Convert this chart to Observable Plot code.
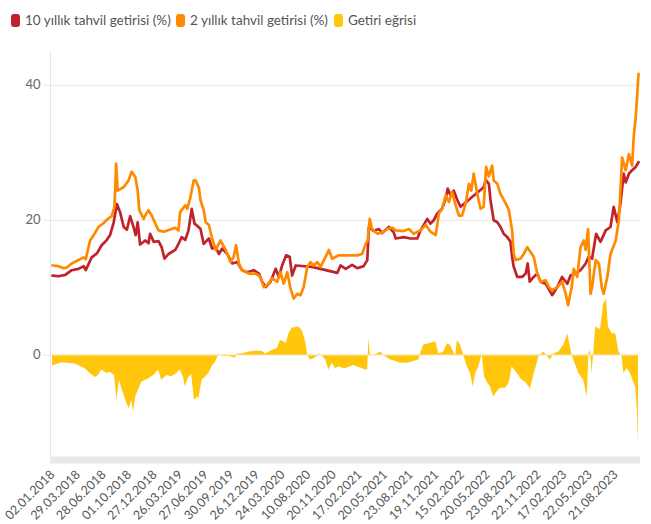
<!DOCTYPE html>
<html><head><meta charset="utf-8">
<script src="https://cdn.jsdelivr.net/npm/d3@7"></script>
<script src="https://cdn.jsdelivr.net/npm/@observablehq/plot@0.6"></script>
<style>
body{margin:0;background:#fff;font-family:Lato,"Open Sans",sans-serif;}
#legend{height:36px;position:relative;font-size:13.5px;color:#555;}
.item{position:absolute;top:12px;display:flex;align-items:center;white-space:nowrap;}
.sw{width:9px;height:13px;border-radius:3px;margin-right:5px;}
#chart svg{display:block;}
</style></head><body>
<div id="legend"></div>
<div id="chart"></div>
<script>
const seriesNames = ["10 yıllık tahvil getirisi (%)", "2 yıllık tahvil getirisi (%)", "Getiri eğrisi"];
const seriesColors = ["#c1232b", "#ff8a00", "#ffc60b"];
const tickLabels = ["02.01.2018","29.03.2018","28.06.2018","01.10.2018","27.12.2018","26.03.2019","27.06.2019","30.09.2019","26.12.2019","24.03.2020","10.08.2020","20.11.2020","17.02.2021","20.05.2021","23.08.2021","19.11.2021","15.02.2022","20.05.2022","23.08.2022","22.11.2022","17.02.2023","22.05.2023","21.08.2023"];
const tickStep = 64;
const yTicks = [0, 20, 40];

// 10-year yield: trading-day index and value
const idx10 = [0,15,32,48,65,78,83,98,111,123,136,144,153,161,169,178,186,194,203,208,213,219,232,240,244,253,265,273,280,290,307,315,323,332,340,348,355,363,370,378,391,399,408,416,424,437,449,462,474,487,503,516,524,533,545,558,566,574,584,593,599,608,649,712,720,733,749,762,778,787,791,803,816,824,841,853,858,878,895,912,920,937,945,953,962,974,983,988,995,1003,1012,1020,1078,1083,1091,1095,1103,1112,1120,1128,1137,1145,1149,1153,1162,1174,1183,1188,1193,1203,1212,1220,1233,1249,1262,1274,1287,1295,1308,1320,1333,1341,1349,1359,1370,1383,1395,1403,1412,1420,1428,1433,1441,1449,1458,1465];
const val10 = [11.8,11.7,11.9,12.6,12.8,13.2,12.6,14.5,15.1,16.3,17.1,17.8,19.7,22.4,21.2,19.0,18.6,20.6,18.9,17.8,19.7,16.4,17.0,16.6,18.0,16.8,16.9,16.0,14.3,15.0,15.6,16.5,17.5,17.1,18.5,21.7,19.5,19.1,18.7,16.5,17.3,15.8,16.0,15.0,15.8,15.0,13.6,13.8,12.6,12.3,12.6,12.1,10.9,10.1,10.9,12.8,11.6,13.3,14.8,14.6,11.8,13.3,13.1,12.2,13.3,12.8,13.4,12.9,13.2,14.1,19.0,18.4,18.7,18.1,19.0,18.2,17.3,17.5,17.3,17.3,18.5,20.2,19.5,20.0,21.0,21.7,23.2,24.7,23.7,24.4,23.0,22.0,24.9,26.0,25.4,23.0,20.0,19.7,19.0,18.0,17.5,16.8,14.6,13.1,11.6,11.6,12.1,13.6,10.9,11.6,12.1,10.9,10.6,8.9,10.1,11.6,10.6,11.8,12.1,12.6,13.6,14.6,14.3,18.0,16.8,18.5,19.0,22.0,19.7,22.5,26.9,25.6,26.9,27.4,27.9,28.6];

// 2-year yield
const idx2 = [0,15,28,36,48,65,78,83,94,103,115,128,136,148,155,159,163,178,190,198,207,213,217,228,232,240,248,257,265,278,298,307,315,319,332,337,344,353,358,366,370,378,383,391,399,408,420,433,445,453,459,466,474,491,508,520,528,537,549,562,570,578,587,595,603,612,620,628,637,645,653,662,670,683,691,699,708,716,733,762,774,783,788,793,799,812,824,837,849,858,878,891,903,920,933,945,958,966,974,983,991,999,1008,1016,1024,1033,1041,1047,1053,1062,1070,1078,1084,1091,1099,1103,1112,1120,1133,1141,1149,1153,1158,1170,1178,1187,1195,1203,1212,1220,1233,1241,1249,1262,1274,1283,1289,1298,1303,1312,1320,1328,1333,1339,1345,1349,1358,1366,1373,1378,1387,1395,1408,1416,1424,1433,1441,1449,1453,1458,1462,1465];
const val2 = [13.3,13.2,12.9,13.0,13.6,14.1,14.5,14.2,17.0,17.8,19.0,19.6,20.1,20.6,22.0,28.4,24.4,24.9,25.9,27.2,26.4,24.4,21.5,20.2,20.7,21.5,20.7,19.5,18.5,18.3,18.7,18.9,18.5,21.2,22.2,21.7,23.2,25.9,25.9,24.8,23.0,21.5,19.7,19.3,17.3,15.6,17.0,15.6,13.8,14.6,16.3,13.6,12.6,12.1,12.1,11.6,10.1,10.4,11.4,10.9,12.3,10.6,12.3,9.9,8.4,9.1,8.9,10.1,13.1,13.8,13.3,13.8,13.1,14.6,15.6,14.3,14.6,14.8,14.8,14.8,15.0,16.5,17.0,20.2,18.7,18.0,18.2,18.7,18.9,18.5,18.4,18.7,18.0,18.5,19.3,18.3,17.8,21.0,21.7,23.7,22.7,24.2,22.2,20.7,20.7,22.5,25.4,24.4,26.9,23.9,21.7,22.0,27.9,26.5,28.1,25.9,25.4,23.9,22.5,21.5,18.5,15.0,14.1,14.3,15.0,16.0,15.3,14.6,12.1,10.9,11.1,10.1,9.6,10.1,10.9,9.1,7.4,10.1,12.8,11.6,16.0,17.0,15.6,18.7,9.1,10.1,14.1,13.6,10.1,9.1,11.6,15.0,17.0,20.0,29.3,27.4,29.8,28.1,32.3,35.3,38.7,41.7];

// Yield curve (spread)
const idxC = [0,23,57,82,94,107,115,123,136,144,155,161,167,178,186,192,198,203,208,215,223,240,253,265,273,286,298,311,319,328,332,340,348,355,363,366,374,383,391,399,408,416,424,441,458,462,474,491,508,524,533,549,562,570,578,584,591,599,608,616,624,633,638,645,653,662,670,683,691,699,708,716,728,737,753,770,783,788,791,795,812,820,828,845,858,870,887,899,916,920,928,941,958,966,978,987,995,1008,1012,1020,1028,1037,1045,1052,1058,1066,1074,1080,1087,1095,1103,1112,1120,1133,1141,1145,1149,1158,1174,1183,1195,1203,1212,1216,1228,1245,1253,1266,1278,1288,1295,1299,1303,1316,1328,1337,1341,1345,1349,1353,1358,1370,1378,1385,1390,1399,1408,1416,1424,1428,1437,1445,1453,1458,1462,1465];
const valC = [-1.6,-1.1,-1.3,-2.0,-2.7,-3.3,-3.0,-2.2,-2.7,-2.5,-3.0,-6.7,-3.7,-5.7,-7.2,-7.9,-6.7,-8.4,-6.2,-5.2,-4.0,-3.5,-3.0,-2.2,-3.7,-3.0,-3.2,-2.7,-2.2,-3.3,-4.7,-3.3,-2.9,-6.7,-6.2,-6.4,-3.7,-3.2,-2.7,-1.7,-1.0,0.2,-0.2,-0.2,-0.4,0.2,0.2,0.5,0.6,0.6,0.2,0.7,1.0,2.2,2.0,1.7,3.2,4.0,4.1,4.2,3.7,2.0,0.0,-0.7,-0.5,-0.2,0.2,-0.7,-2.2,-1.2,-2.0,-1.7,-2.0,-1.9,-1.5,-1.9,-2.2,-2.2,2.5,-0.2,0.2,0.5,0.0,-0.7,-0.9,-1.2,-1.2,-1.0,-0.7,0.2,1.5,1.7,2.0,0.2,0.5,1.7,1.5,-0.2,2.2,1.5,0.0,-1.7,-2.7,-4.7,-2.7,-1.7,0.2,-3.2,-4.0,-4.7,-6.2,-5.4,-4.9,-4.9,-4.2,-3.2,-1.7,-2.4,-3.7,-4.0,-5.0,-3.0,-1.2,-0.2,0.5,-0.7,0.2,0.5,1.5,3.2,1.2,0.0,-0.7,-2.7,-3.7,-6.2,0.2,0.7,-2.7,0.2,4.2,3.8,7.6,8.3,4.2,3.2,3.2,0.5,-0.2,-2.7,-2.0,-2.7,-4.0,-4.8,-7.9,-13.2];

const toRows = (xs, vs) => xs.map((d, i) => ({i: d, v: vs[i]}));
const d10 = toRows(idx10, val10);
const d2 = toRows(idx2, val2);
const dC = toRows(idxC, valC);
const tickIdx = tickLabels.map((_, k) => k * tickStep);

// legend
const legend = document.getElementById("legend");
const lefts = [11, 176, 334];
seriesNames.forEach((name, k) => {
  const it = document.createElement("div");
  it.className = "item";
  it.style.left = lefts[k] + "px";
  it.innerHTML = `<span class="sw" style="background:${seriesColors[k]}"></span><span>${name}</span>`;
  legend.appendChild(it);
});

const chart = Plot.plot({
  width: 651,
  height: 488,
  marginLeft: 50,
  marginRight: 11,
  marginTop: 15,
  marginBottom: 68,
  style: {fontFamily: "Lato, 'Open Sans', sans-serif", background: "#fff", color: "#666"},
  x: {domain: [-5, 1470]},
  y: {domain: [-15, 45]},
  marks: [
    Plot.gridY(yTicks, {stroke: "#e6e6e6", strokeOpacity: 1}),
    Plot.ruleX([-5], {stroke: "#e6e6e6"}),
    Plot.ruleY([-15], {stroke: "#e8e8e8", strokeWidth: 7, dy: 3.5}),
    Plot.axisY(yTicks, {tickSize: 7, tickPadding: 3, stroke: "#e6e6e6", fill: "#666", fontSize: 13, label: null}),
    Plot.axisX(tickIdx, {tickSize: 0, tickPadding: 16, tickRotate: -45, fill: "#555", fontSize: 12.5, label: null,
      tickFormat: d => tickLabels[Math.round(d / tickStep)]}),
    Plot.line(d10, {x: "i", y: "v", stroke: seriesColors[0], strokeWidth: 2.7}),
    Plot.line(d2, {x: "i", y: "v", stroke: seriesColors[1], strokeWidth: 2.7}),
    Plot.areaY(dC, {x: "i", y: "v", fill: seriesColors[2]}),
    Plot.ruleY([0], {stroke: "#ffffff", strokeOpacity: 0.45})
  ]
});
document.getElementById("chart").appendChild(chart);
</script>
</body></html>
